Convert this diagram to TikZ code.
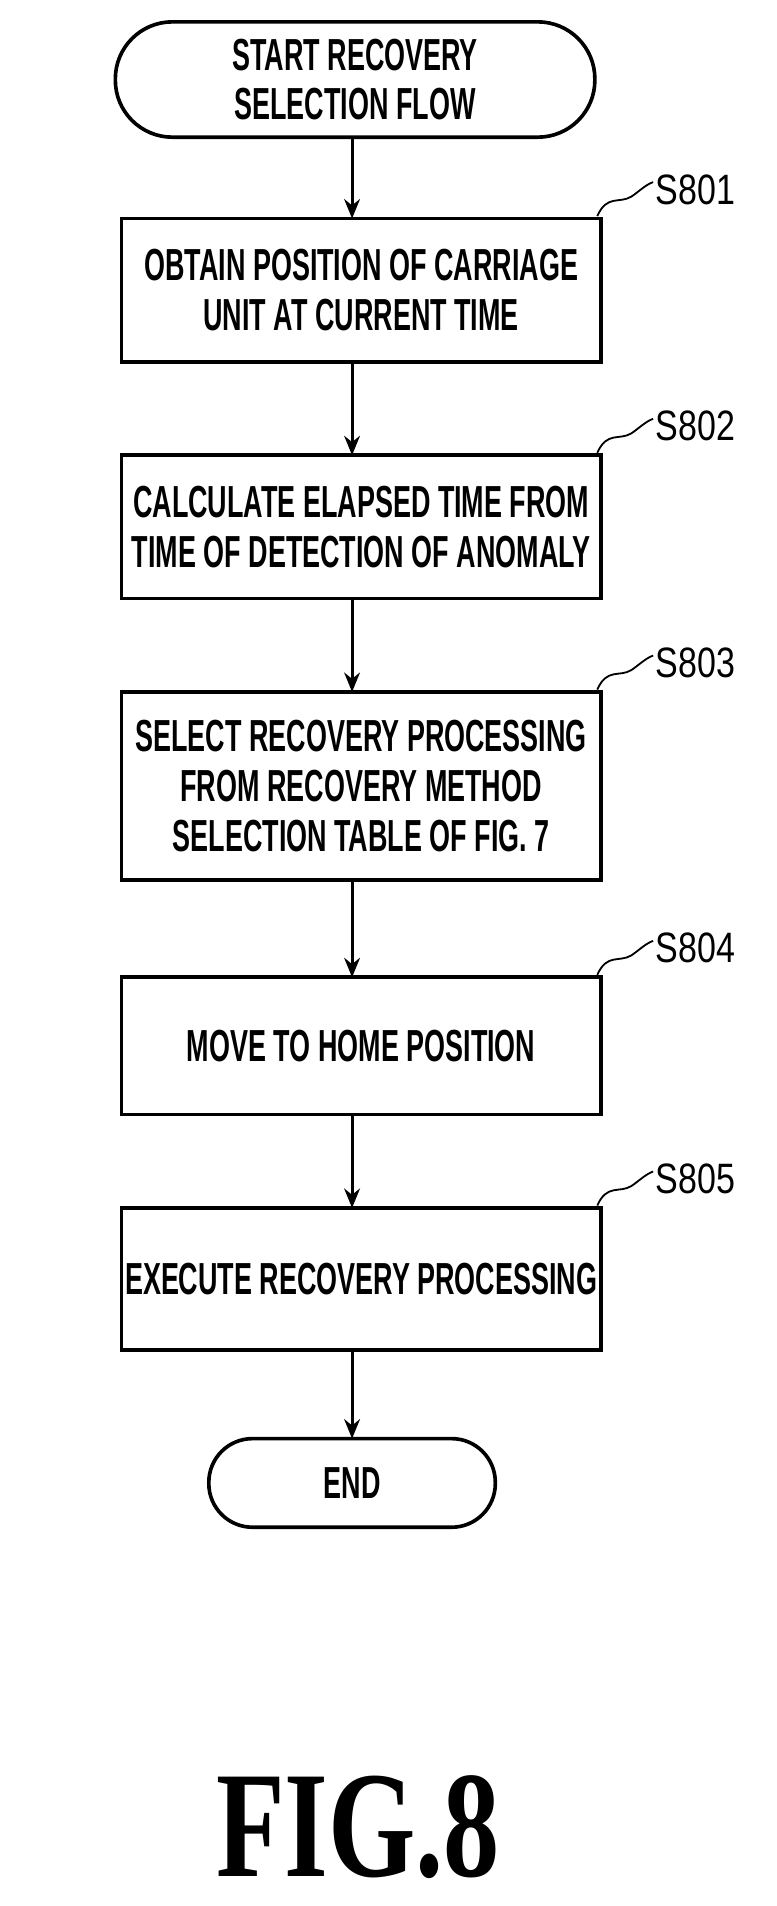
\documentclass[tikz,border=0pt]{standalone}
\usepackage{fontspec}
\setmainfont{Liberation Sans}
\newfontfamily\boxfont[FakeStretch=0.6]{Liberation Sans Bold}
\newfontfamily\labfont[FakeStretch=0.8]{Liberation Sans}
\newfontfamily\figfont[FakeStretch=0.74]{Liberation Serif Bold}
\usetikzlibrary{arrows.meta}
\begin{document}
\begin{tikzpicture}[x=1pt,y=-1pt,
  every node/.style={inner sep=0pt},
  txt/.style={font=\boxfont\fontsize{37}{41}\selectfont,align=center},
  box/.style={draw,line width=3pt,rectangle,minimum width=395pt,txt},
  arr/.style={line width=2.5pt,-{Stealth[length=16pt,width=13pt]}},
  lab/.style={font=\labfont\fontsize{35}{36}\selectfont,anchor=west},
  wav/.style={line width=1.5pt}]
\useasboundingbox (0,0) rectangle (640,1570);
\draw[line width=3pt,rounded corners=47pt] (95,18) rectangle (490,113);
\node[txt] (start) at (292.5,65.5) {START RECOVERY\\SELECTION FLOW};
\node[box,minimum height=118pt] (b1) at (297.5,239) {OBTAIN POSITION OF CARRIAGE\\UNIT AT CURRENT TIME};
\node[box,minimum height=118pt] (b2) at (297.5,434) {CALCULATE ELAPSED TIME FROM\\TIME OF DETECTION OF ANOMALY};
\node[box,minimum height=155pt] (b3) at (297.5,647.5) {SELECT RECOVERY PROCESSING\\FROM RECOVERY METHOD\\SELECTION TABLE OF FIG. 7};
\node[box,minimum height=113pt] (b4) at (297.5,861.5) {MOVE TO HOME POSITION};
\node[box,minimum height=117pt] (b5) at (297.5,1053.5) {EXECUTE RECOVERY PROCESSING};
\draw[line width=3pt,rounded corners=36pt] (172,1185) rectangle (408,1258);
\node[txt] (end) at (290,1222) {END};
\coordinate (endt) at (290,1185);
\draw[arr] (290,113) -- (290,180);
\draw[arr] (290,298) -- (290,375);
\draw[arr] (290,493) -- (290,570);
\draw[arr] (290,725) -- (290,805);
\draw[arr] (290,918) -- (290,995);
\draw[arr] (290,1112) -- (endt);
\foreach \i/\y/\n in {1/180/S801,2/375/S802,3/570/S803,4/805/S804,5/995/S805}{
  \draw[wav] (492,\y-2) .. controls (500,\y-20) and (510,\y-12) .. (520,\y-18) .. controls (526,\y-22) and (532,\y-28) .. (538,\y-30);
  \node[lab] (l\i) at (540,\y-24) {\n};
}
\node[font=\figfont\fontsize{125}{130}\selectfont] (fig) at (295,1505) {FIG.8};
\end{tikzpicture}
\end{document}
